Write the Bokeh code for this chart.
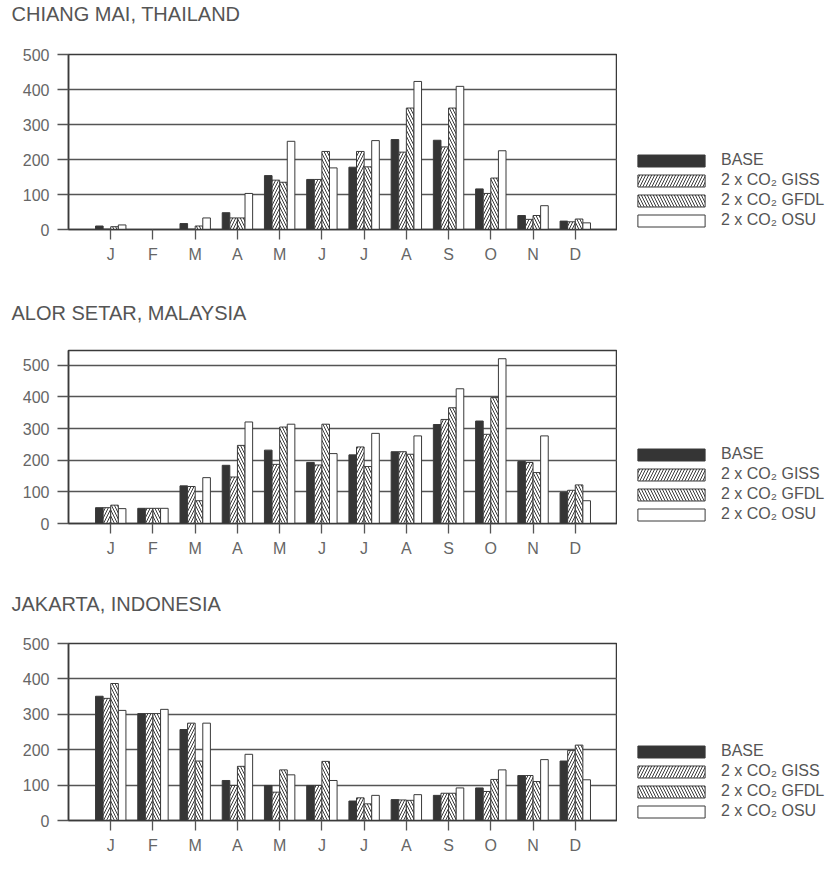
from bokeh.plotting import figure
from bokeh.models import Legend, LegendItem, FixedTicker, Range1d
from bokeh.layouts import column, row
from bokeh.core.properties import value
from bokeh.embed import file_html
from bokeh.resources import INLINE

months = ["J", "F", "M", "A", "M", "J", "J", "A", "S", "O", "N", "D"]
series_names = ["BASE", "2 x CO\u2082 GISS", "2 x CO\u2082 GFDL", "2 x CO\u2082 OSU"]
y_ticks = [0, 100, 200, 300, 400, 500]

chiang_title = "CHIANG MAI, THAILAND"
chiang_base = [10, 0, 17, 48, 154, 143, 178, 257, 255, 116, 40, 24]
chiang_giss = [1, 0, 1, 33, 141, 143, 223, 221, 236, 103, 29, 22]
chiang_gfdl = [8, 0, 10, 33, 135, 223, 179, 347, 347, 147, 40, 30]
chiang_osu = [13, 0, 33, 103, 252, 176, 254, 423, 409, 225, 68, 19]

alor_title = "ALOR SETAR, MALAYSIA"
alor_base = [50, 48, 119, 184, 232, 193, 217, 227, 313, 324, 196, 98]
alor_giss = [50, 48, 117, 147, 187, 185, 242, 227, 329, 282, 193, 105]
alor_gfdl = [58, 48, 72, 247, 305, 314, 180, 219, 366, 398, 161, 122]
alor_osu = [47, 48, 145, 321, 314, 221, 285, 277, 426, 521, 277, 72]

jakarta_title = "JAKARTA, INDONESIA"
jakarta_base = [351, 302, 257, 113, 99, 99, 55, 59, 71, 92, 127, 168]
jakarta_giss = [345, 302, 275, 99, 80, 99, 64, 58, 77, 82, 127, 198]
jakarta_gfdl = [387, 302, 168, 153, 143, 167, 47, 57, 77, 116, 110, 213]
jakarta_osu = [311, 314, 275, 187, 129, 113, 71, 73, 92, 143, 172, 115]

FONT = "Liberation Sans"
TXT = "#555555"
LINE = "#3a3a3a"
FRAME_W = 549
LEFT = 68
LEG_W = 210
TITLE_H = 30

STYLES = [
    dict(fill_color="#353535"),
    dict(fill_color="white", hatch_pattern="/", hatch_color=LINE, hatch_scale=6, hatch_weight=1),
    dict(fill_color="white", hatch_pattern="\\", hatch_color=LINE, hatch_scale=6, hatch_weight=1),
    dict(fill_color="white"),
]


def blank(width, height, xr, yr, left=0, bottom=0):
    f = figure(width=width, height=height, x_range=xr, y_range=yr,
               x_axis_location=None, y_axis_location=None,
               output_backend="svg", toolbar_location=None,
               min_border=0, min_border_left=left, min_border_right=0,
               min_border_top=0, min_border_bottom=bottom)
    f.outline_line_color = None
    f.xgrid.visible = False
    f.ygrid.visible = False
    f.background_fill_color = "white"
    f.border_fill_color = "white"
    return f


def make_panel(title, data, ymax, frame_h, top, bottom):
    # title strip
    t = blank(LEFT + FRAME_W + LEG_W, TITLE_H, Range1d(0, LEFT + FRAME_W + LEG_W), Range1d(TITLE_H, 0))
    t.text(x=[11], y=[13], text=[title], text_font=value(FONT), text_font_size="20px",
           text_color=TXT, text_baseline="middle", text_align="left")

    p = figure(x_range=Range1d(0, 13), y_range=Range1d(0, ymax),
               frame_width=FRAME_W, frame_height=frame_h,
               output_backend="svg", toolbar_location=None,
               min_border_left=LEFT, min_border_right=0,
               min_border_top=top, min_border_bottom=bottom)
    p.background_fill_color = "white"
    p.border_fill_color = "white"
    p.outline_line_color = LINE
    p.outline_line_width = 1.5

    x = list(range(1, 13))
    offsets = [-0.27, -0.09, 0.09, 0.27]
    for vals, off, st in zip(data, offsets, STYLES):
        p.vbar(x=[xi + off for xi in x], top=vals, width=0.18, bottom=0,
               line_color=LINE, line_width=1, **st)

    p.xgrid.grid_line_color = None
    p.ygrid.grid_line_color = "#555555"
    p.ygrid.grid_line_width = 1.3
    p.ygrid.ticker = FixedTicker(ticks=y_ticks)

    p.xaxis.ticker = FixedTicker(ticks=x)
    p.xaxis.major_label_overrides = {i + 1: m for i, m in enumerate(months)}
    p.yaxis.ticker = FixedTicker(ticks=y_ticks)
    for ax in (p.xaxis, p.yaxis):
        ax.axis_line_color = LINE
        ax.axis_line_width = 1.5
        ax.major_tick_line_color = "#555555"
        ax.major_tick_line_width = 1.3
        ax.major_tick_in = 0
        ax.minor_tick_line_color = None
        ax.major_label_text_font = FONT
        ax.major_label_text_font_size = "16px"
        ax.major_label_text_color = "#666666"
    p.xaxis.major_tick_out = 10
    p.xaxis.major_label_standoff = 6
    p.yaxis.major_tick_out = 11
    p.yaxis.major_label_standoff = 8

    # legend strip (frame bottom aligned with the chart's frame bottom)
    height = top + frame_h + bottom
    lg = blank(LEG_W, height, Range1d(0, 1), Range1d(0, 1), left=12, bottom=bottom)
    items = []
    for st, name in zip(STYLES, series_names):
        r = lg.vbar(x=[5], top=[0.5], width=0.1, line_color=LINE, line_width=1, **st)
        items.append(LegendItem(label=name, renderers=[r]))
    legend = Legend(items=items, location="bottom_left", orientation="vertical",
                    glyph_width=84, glyph_height=15, spacing=2, padding=0, margin=0,
                    label_standoff=8, label_text_font=FONT, label_text_font_size="16px",
                    label_text_color=TXT, border_line_color=None,
                    background_fill_alpha=0)
    lg.add_layout(legend)
    return column(t, row(p, lg, spacing=0), spacing=0)


p1 = make_panel(chiang_title, [chiang_base, chiang_giss, chiang_gfdl, chiang_osu], 500, 175, 24, 70)
p2 = make_panel(alor_title, [alor_base, alor_giss, alor_gfdl, alor_osu], 547, 173, 21, 67)
p3 = make_panel(jakarta_title, [jakarta_base, jakarta_giss, jakarta_gfdl, jakarta_osu], 500, 177, 23, 46)

layout = column(p1, p2, p3, spacing=0)
open("out.html", "w").write(file_html(layout, INLINE))
